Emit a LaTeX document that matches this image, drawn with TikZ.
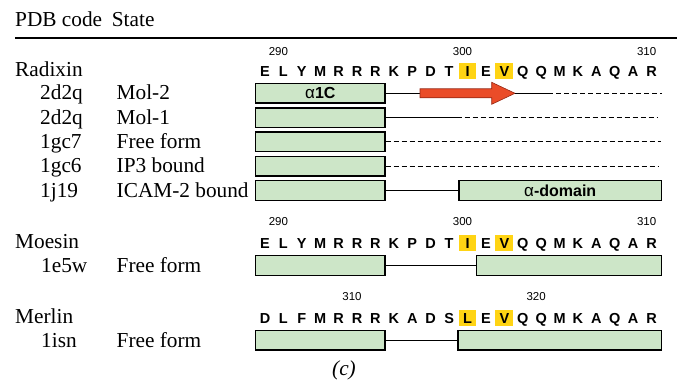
\documentclass[tikz,border=0pt]{standalone}
\usepackage{fontspec}
\setmainfont{Liberation Serif}
\newfontfamily\seqfont{Liberation Sans}
\definecolor{boxgreen}{RGB}{205,230,200}
\definecolor{hlyellow}{RGB}{255,212,20}
\definecolor{strandred}{RGB}{234,76,40}
\definecolor{stranddark}{RGB}{150,40,20}

% one residue letter every 18.41pt, first residue at x = 265
\newcommand\resx[1]{265+#1*18.41}
% a row of residues: name prefix, baseline, letters
\newcommand\seqrow[3]{%
  \foreach \c [count=\i from 0] in {#3}
    \node[res] (#1\i) at ({\resx{\i}},#2) {\c};}
% yellow mark behind residue: name, index, baseline
\newcommand\hlres[3]{\node[hlbox] (#1) at ({\resx{#2}},#3+3) {};}

\begin{document}
\begin{tikzpicture}[x=1pt,y=-1pt,
  txt/.style={inner sep=0pt,anchor=base west,font=\fontsize{21.3}{24}\selectfont},
  res/.style={inner sep=0pt,anchor=base,font=\seqfont\bfseries\fontsize{14.5}{14.5}\selectfont},
  num/.style={inner sep=0pt,anchor=base,font=\seqfont\fontsize{11.5}{12}\selectfont},
  hlbox/.style={fill=hlyellow,inner sep=0pt,minimum width=17.7pt,minimum height=16pt,anchor=south},
  gbox/.style={draw,line width=1.4pt,fill=boxgreen,inner sep=0pt,minimum height=19.5pt,anchor=west,
    font=\seqfont\bfseries\fontsize{16}{16}\selectfont},
  conn/.style={line width=0.9pt},
  gap/.style={line width=0.9pt,dash pattern=on 5pt off 3pt},
  strand/.style={fill=strandred,draw=stranddark,line width=0.6pt}]
\useasboundingbox (0,0) rectangle (677,385);

% header
\node[txt] (hpdb) at (15,26.7) {PDB code};
\node[txt] (hstate) at (111.7,26.7) {State};
\coordinate (rulea) at (15,38);
\coordinate (ruleb) at (677,38);
\draw[line width=1.6pt] (rulea) -- (ruleb);

% ---------------- Radixin ----------------
\node[txt] (radixin) at (15,76.5) {Radixin};
\hlres{radI}{11}{76.5}
\hlres{radV}{13}{76.5}
\seqrow{rad}{76.5}{E,L,Y,M,R,R,R,K,P,D,T,I,E,V,Q,Q,M,K,A,Q,A,R}
\node[num] (rn290) at ({\resx{1}-5},55.5) {290};
\node[num] (rn300) at ({\resx{11}-5},55.5) {300};
\node[num] (rn310) at ({\resx{21}-5},55.5) {310};

\node[txt] (c1) at (40,100) {2d2q};   \node[txt] (s1) at (116.5,100) {Mol-2};
\node[txt] (c2) at (40,124.3) {2d2q}; \node[txt] (s2) at (116.5,124.3) {Mol-1};
\node[txt] (c3) at (40,148.6) {1gc7}; \node[txt] (s3) at (116.5,148.6) {Free form};
\node[txt] (c4) at (40,172.9) {1gc6}; \node[txt] (s4) at (116.5,172.9) {IP3 bound};
\node[txt] (c5) at (40,197.2) {1j19}; \node[txt] (s5) at (116.5,197.2) {ICAM-2 bound};

% Mol-2: helix, loop, strand, disordered tail
\node[gbox,minimum width=129.3pt] (b1) at (255,93.3)
  {{\mdseries\fontsize{17}{17}\selectfont α}1C};
\coordinate (atail) at (420,93.3);
\coordinate (atip) at (515,93.3);
\coordinate (d1) at (548,93.3);
\coordinate (e1) at (661.7,93.3);
\draw[conn] (b1.east) -- (atail);
\filldraw[strand] (420,88.8) -- (491.7,88.8) -- (491.7,82.3) -- (atip)
  -- (491.7,104.3) -- (491.7,97.8) -- (420,97.8) -- cycle;
\draw[conn] (atip) -- (d1);
\draw[gap] (d1) -- (e1);

% Mol-1
\node[gbox,minimum width=129.3pt] (b2) at (255,117.6) {};
\coordinate (d2) at (456.7,117.6);
\coordinate (e2) at (658.3,117.6);
\draw[conn] (b2.east) -- (d2);
\draw[gap] (d2) -- (e2);

% Free form
\node[gbox,minimum width=129.3pt] (b3) at (255,141.9) {};
\coordinate (e3) at (661,141.9);
\draw[gap] (b3.east) -- (e3);

% IP3 bound
\node[gbox,minimum width=129.3pt] (b4) at (255,166.2) {};
\coordinate (e4) at (658,166.2);
\draw[gap] (b4.east) -- (e4);

% ICAM-2 bound
\node[gbox,minimum width=129.3pt] (b5) at (255,190.5) {};
\node[gbox,minimum width=202.4pt] (b5r) at (458.3,190.5)
  {{\mdseries\fontsize{17}{17}\selectfont α}-domain};
\draw[conn] (b5.east) -- (b5r.west);

% ---------------- Moesin ----------------
\node[txt] (moesin) at (15,248) {Moesin};
\hlres{moeI}{11}{248}
\hlres{moeV}{13}{248}
\seqrow{moe}{248}{E,L,Y,M,R,R,R,K,P,D,T,I,E,V,Q,Q,M,K,A,Q,A,R}
\node[num] (mn290) at ({\resx{1}-5},225.7) {290};
\node[num] (mn300) at ({\resx{11}-5},225.7) {300};
\node[num] (mn310) at ({\resx{21}-5},225.7) {310};
\node[txt] (c6) at (41,272.2) {1e5w}; \node[txt] (s6) at (116.5,272.2) {Free form};
\node[gbox,minimum width=129.3pt] (b6) at (255,265.5) {};
\node[gbox,minimum width=185pt] (b6r) at (476,265.5) {};
\draw[conn] (b6.east) -- (b6r.west);

% ---------------- Merlin ----------------
\node[txt] (merlin) at (15,323.5) {Merlin};
\hlres{merL}{11}{323}
\hlres{merV}{13}{323}
\seqrow{mer}{323}{D,L,F,M,R,R,R,K,A,D,S,L,E,V,Q,Q,M,K,A,Q,A,R}
\node[num] (en310) at ({\resx{5}-5},300.7) {310};
\node[num] (en320) at ({\resx{15}-5},300.7) {320};
\node[txt] (c7) at (41,347) {1isn}; \node[txt] (s7) at (116.5,347) {Free form};
\node[gbox,minimum width=129.3pt] (b7) at (255,340.3) {};
\node[gbox,minimum width=203.7pt] (b7r) at (457.3,340.3) {};
\draw[conn] (b7.east) -- (b7r.west);

% panel label
\node[inner sep=0pt,font=\fontsize{21.3}{24}\selectfont\itshape] (panel) at (344,370.5) {(c)};
\end{tikzpicture}
\end{document}
